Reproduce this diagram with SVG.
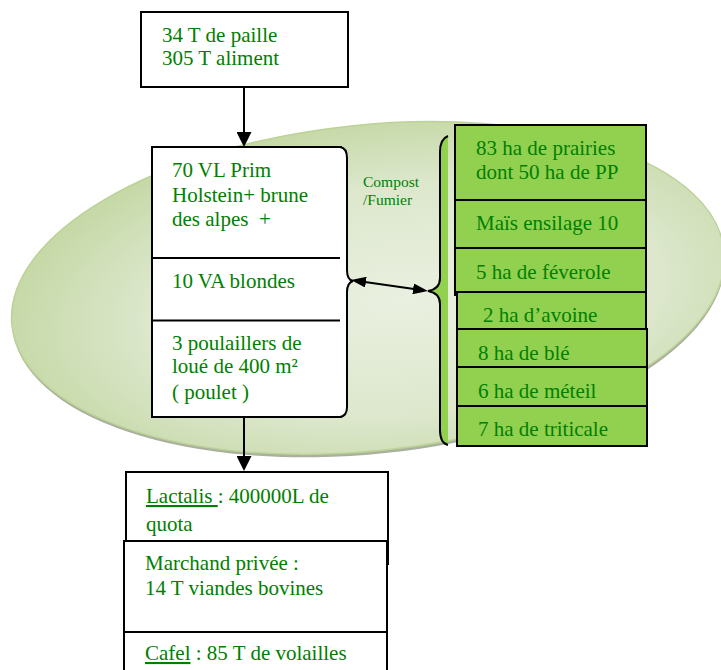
<svg xmlns="http://www.w3.org/2000/svg" width="721" height="670" viewBox="0 0 721 670">
<defs>
<radialGradient id="eg" cx="0.55" cy="0.55" r="0.6">
<stop offset="0" stop-color="#eaf0e0"/>
<stop offset="0.6" stop-color="#dce7cc"/>
<stop offset="1" stop-color="#c2d6a0"/>
</radialGradient>
<marker id="ah" viewBox="0 0 15 15" refX="8" refY="7.5" markerWidth="15" markerHeight="15" markerUnits="userSpaceOnUse" orient="auto-start-reverse">
<path d="M0,0 L15,7.5 L0,15 z" fill="#000"/>
</marker>
<marker id="ah2" viewBox="0 0 15 11" refX="8" refY="5.5" markerWidth="15" markerHeight="11" markerUnits="userSpaceOnUse" orient="auto-start-reverse">
<path d="M0,0 L15,5.5 L0,11 z" fill="#000"/>
</marker>
</defs>
<style>
text{font-family:'Liberation Serif','Times New Roman',serif}
.t{font-size:21px;fill:#008000;white-space:pre}
.s{font-size:15.5px;fill:#008000}
.box{fill:#fff;stroke:#000;stroke-width:2}
.gbox{fill:#92d050;stroke:#000;stroke-width:2}
.ln{fill:none;stroke:#000;stroke-width:2}
</style>
<rect width="721" height="670" fill="#fff"/>
<g id="field">
<ellipse cx="368" cy="291" rx="358" ry="163" transform="rotate(-6 368 288)" fill="#a9b09d"/>
<ellipse cx="368" cy="288" rx="358" ry="163" transform="rotate(-6 368 288)" fill="url(#eg)" stroke="#bcd296" stroke-width="1.5"/>
</g>
<g id="inputs">
<rect class="box" x="141" y="12" width="207" height="75"/>
<text class="t" x="162" y="42" font-family="Liberation Serif, serif">34 T de paille</text>
<text class="t" x="162" y="65" font-family="Liberation Serif, serif">305 T aliment</text>
</g>
<g id="animals">
<rect class="box" x="152" y="147" width="189" height="270"/>
<line class="ln" x1="152" y1="258" x2="341" y2="258"/>
<line class="ln" x1="152" y1="320.5" x2="341" y2="320.5"/>
<text class="t" x="172" y="177">70 VL Prim</text>
<text class="t" x="172" y="202">Holstein+ brune</text>
<text class="t" x="172" y="226">des alpes  +</text>
<text class="t" x="172" y="288">10 VA blondes</text>
<text class="t" x="172" y="350">3 poulaillers de</text>
<text class="t" x="172" y="373">loué de 400 m²</text>
<text class="t" x="172" y="399">( poulet )</text>
<path d="M340,147 Q347,148 347,158 L347,270 Q347,280 353,281 Q347,283 347,292 L347,407 Q347,416 340,417" fill="#fff" stroke="#000" stroke-width="2"/>
</g>
<g id="compost">
<text class="s" x="363" y="187">Compost</text>
<text class="s" x="363" y="205">/Fumier</text>
</g>
<g id="crops">
<path d="M448,136 Q440,139 440,152 L440,278 Q440,289 428,291 Q440,293 440,304 L440,430 Q440,443 448,445" fill="#92d050" stroke="#000" stroke-width="2"/>
<rect class="gbox" x="455" y="125" width="191" height="75"/>
<rect class="gbox" x="455" y="200" width="191" height="48"/>
<rect class="gbox" x="455" y="248" width="191" height="47"/>
<rect class="gbox" x="457" y="292" width="189" height="37"/>
<rect class="gbox" x="457" y="329" width="190" height="38"/>
<rect class="gbox" x="457" y="367" width="190" height="39"/>
<rect class="gbox" x="457" y="406" width="190" height="40"/>
<text class="t" x="476" y="155">83 ha de prairies</text>
<text class="t" x="476" y="179">dont 50 ha de PP</text>
<text class="t" x="476" y="230">Maïs ensilage 10</text>
<text class="t" x="476" y="279">5 ha de féverole</text>
<text class="t" x="483" y="322">2 ha d’avoine</text>
<text class="t" x="478" y="360">8 ha de blé</text>
<text class="t" x="478" y="398">6 ha de méteil</text>
<text class="t" x="478" y="436">7 ha de triticale</text>
</g>
<g id="outputs">
<rect class="box" x="126" y="472" width="262" height="92"/>
<text class="t" x="146" y="503"><tspan text-decoration="underline">Lactalis </tspan>: 400000L de</text>
<text class="t" x="146" y="531">quota</text>
<rect class="box" x="124" y="541" width="263" height="91"/>
<text class="t" x="145" y="570">Marchand privée :</text>
<text class="t" x="145" y="595">14 T viandes bovines</text>
<rect class="box" x="124" y="632" width="263" height="60"/>
<text class="t" x="145" y="660"><tspan text-decoration="underline">Cafel</tspan> : 85 T de volailles</text>
</g>
<g id="connectors">
<line class="ln" x1="244" y1="87" x2="244" y2="140" marker-end="url(#ah)"/>
<line class="ln" x1="244" y1="417" x2="244" y2="464" marker-end="url(#ah)"/>
<line class="ln" x1="358" y1="281" x2="421" y2="290" marker-start="url(#ah2)" marker-end="url(#ah2)"/>
</g>
</svg>
